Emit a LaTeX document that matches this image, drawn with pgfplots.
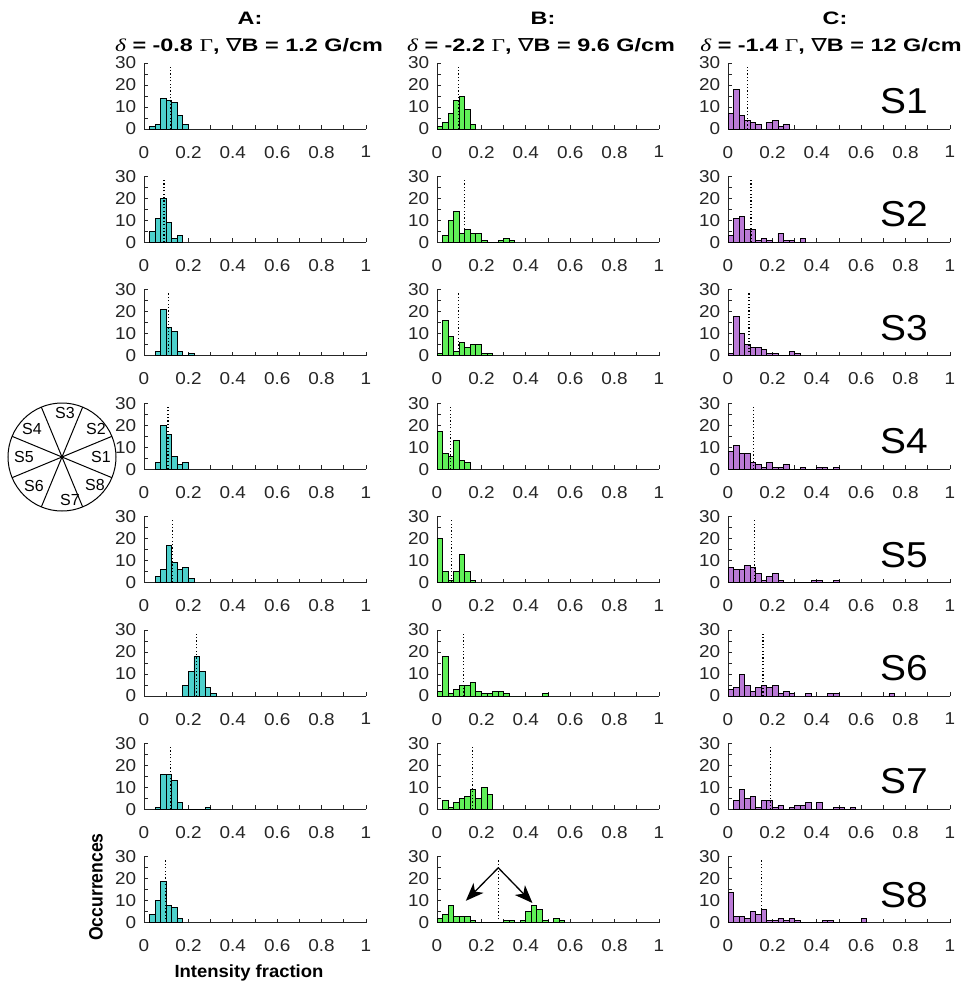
\documentclass[border=0pt]{standalone}
\usepackage{fontspec}
\setmainfont{Liberation Sans}
\newfontfamily\seriffont{Liberation Serif}
\newfontfamily\dejavu{DejaVu Sans}
\usepackage{pgfplots}
\pgfplotsset{compat=1.18}
\usetikzlibrary{arrows.meta,calc}
\definecolor{colA}{RGB}{77,208,204}
\definecolor{colB}{RGB}{96,240,88}
\definecolor{colC}{RGB}{186,122,214}
\definecolor{axgray}{RGB}{38,38,38}

\pgfplotsset{panel/.style={
  width=111pt, height=33pt, scale only axis,
  anchor=south west,
  xmin=0, xmax=1, ymin=0, ymax=30,
  axis lines*=left,
  axis line style={line width=0.5pt, axgray},
  tick align=inside,
  major tick length=2pt, minor tick length=2pt,
  every tick/.style={line width=0.4pt, axgray},
  xtick={0,0.2,0.4,0.6,0.8,1}, xticklabels={0,0.2,0.4,0.6,0.8,1},
  minor xtick={0.1,0.3,0.5,0.7,0.9},
  ytick={0,10,20,30}, minor ytick={5,15,25},
  /pgf/number format/assume math mode=true,
  tick label style={font=\fontsize{8.6}{9}\selectfont, text=axgray, xscale=1.1},
  xticklabel style={yshift=-5pt},
  yticklabel style={xshift=0pt},
}}

\newcommand{\panel}[6]{%
\begin{axis}[panel, at={({#1*0.5pt},{-#2*0.5pt})}]
\addplot[ybar interval, fill=#3, draw=black, line width=0.45pt] coordinates {#5};
\addplot[black, line width=0.6pt, dash pattern=on 0.6pt off 1.1pt] coordinates {(#4,0) (#4,29)};
#6
\end{axis}}

\newcommand{\ttl}[3]{{\seriffont\mdseries\itshape δ} = #1 {\seriffont\mdseries Γ}, {\dejavu\mdseries ∇}B = #2 G/cm}

\begin{document}
\begin{tikzpicture}[x=0.5pt, y=-0.5pt]
\path[use as bounding box] (0,0) rectangle (965,986);

% column A
\panel{144}{129}{colA}{0.12}{(0.025,1)(0.05,2)(0.075,14)(0.1,13)(0.125,12)(0.15,6)(0.175,2)(0.2,0)}{}
\panel{144}{242.4}{colA}{0.09}{(0.025,5)(0.05,11)(0.075,20)(0.1,9)(0.125,2)(0.15,3)(0.175,0)}{}
\panel{144}{355.8}{colA}{0.11}{(0.05,2)(0.075,21)(0.1,13)(0.125,11)(0.15,2)(0.175,0)(0.2,1)(0.225,0)}{}
\panel{144}{469.2}{colA}{0.108}{(0.05,3)(0.075,20)(0.1,16)(0.125,6)(0.15,2)(0.175,3)(0.2,0)}{}
\panel{144}{582.6}{colA}{0.13}{(0.05,3)(0.075,6)(0.1,17)(0.125,9)(0.15,6)(0.175,7)(0.2,2)(0.225,0)}{}
\panel{144}{696}{colA}{0.238}{(0.175,5)(0.2,11)(0.225,18)(0.25,11)(0.275,4)(0.3,1)(0.325,0)}{}
\panel{144}{809.4}{colA}{0.12}{(0.05,1)(0.075,16)(0.1,16)(0.125,13)(0.15,3)(0.175,0)(0.2,0)(0.225,0)(0.25,0)(0.275,1)(0.3,0)}{}
\panel{144}{922.8}{colA}{0.096}{(0.025,4)(0.05,10)(0.075,19)(0.1,8)(0.125,7)(0.15,2)(0.175,0)}{}

% column B
\panel{437}{129}{colB}{0.098}{(0,1)(0.025,3)(0.05,7)(0.075,13)(0.1,15)(0.125,9)(0.15,2)(0.175,0)}{}
\panel{437}{242.4}{colB}{0.124}{(0.025,3)(0.05,10)(0.075,14)(0.1,4)(0.125,6)(0.15,4)(0.175,4)(0.2,1)(0.225,0)(0.25,0)(0.275,1)(0.3,2)(0.325,1)(0.35,0)}{}
\panel{437}{355.8}{colB}{0.097}{(0,1)(0.025,16)(0.05,9)(0.075,2)(0.1,6)(0.125,4)(0.15,5)(0.175,5)(0.2,1)(0.225,1)(0.25,0)}{}
\panel{437}{469.2}{colB}{0.06}{(0,17)(0.025,7)(0.05,6)(0.075,13)(0.1,4)(0.125,3)(0.15,0)}{}
\panel{437}{582.6}{colB}{0.067}{(0,20)(0.025,5)(0.05,1)(0.075,5)(0.1,13)(0.125,5)(0.15,1)(0.175,0)}{}
\panel{437}{696}{colB}{0.119}{(0,2)(0.025,18)(0.05,1)(0.075,3)(0.1,5)(0.125,5)(0.15,6)(0.175,2)(0.2,1)(0.225,1)(0.25,2)(0.275,2)(0.3,1)(0.325,0)(0.35,0)(0.375,0)(0.4,0)(0.425,0)(0.45,0)(0.475,1)(0.5,0)}{}
\panel{437}{809.4}{colB}{0.16}{(0.025,4)(0.05,1)(0.075,3)(0.1,5)(0.125,6)(0.15,9)(0.175,5)(0.2,10)(0.225,7)(0.25,0)}{}
\panel{437}{922.8}{colB}{0.276}{(0,2)(0.025,4)(0.05,8)(0.075,3)(0.1,3)(0.125,3)(0.15,1)(0.175,0)(0.2,0)(0.225,0)(0.25,0)(0.275,0)(0.3,1)(0.325,1)(0.35,0)(0.375,1)(0.4,5)(0.425,8)(0.45,6)(0.475,1)(0.5,0)(0.525,2)(0.55,1)(0.575,0)}{%
\draw[black, line width=0.65pt, -{Stealth[length=9pt,width=7pt,inset=2.5pt]}] (axis cs:0.276,25) -- (axis cs:0.13,10);
\draw[black, line width=0.65pt, -{Stealth[length=9pt,width=7pt,inset=2.5pt]}] (axis cs:0.276,25) -- (axis cs:0.43,9);}

% column C
\panel{728}{129}{colC}{0.089}{(0,7)(0.025,18)(0.05,6)(0.075,4)(0.1,3)(0.125,2)(0.15,0)(0.175,3)(0.2,4)(0.225,1)(0.25,2)(0.275,0)}{}
\panel{728}{242.4}{colC}{0.104}{(0,3)(0.025,11)(0.05,12)(0.075,6)(0.1,6)(0.125,1)(0.15,2)(0.175,1)(0.2,0)(0.225,4)(0.25,1)(0.275,1)(0.3,0)(0.325,2)(0.35,0)}{}
\panel{728}{355.8}{colC}{0.095}{(0,1)(0.025,18)(0.05,10)(0.075,5)(0.1,4)(0.125,4)(0.15,3)(0.175,1)(0.2,1)(0.225,0)(0.25,0)(0.275,2)(0.3,1)(0.325,0)}{}
\panel{728}{469.2}{colC}{0.114}{(0,8)(0.025,11)(0.05,7)(0.075,7)(0.1,3)(0.125,2)(0.15,1)(0.175,3)(0.2,1)(0.225,1)(0.25,2)(0.275,0)(0.3,0)(0.325,1)(0.35,0)(0.375,0)(0.4,1)(0.425,1)(0.45,0)(0.475,1)(0.5,0)}{}
\panel{728}{582.6}{colC}{0.119}{(0,7)(0.025,6)(0.05,6)(0.075,8)(0.1,7)(0.125,4)(0.15,1)(0.175,3)(0.2,4)(0.225,1)(0.25,0)(0.275,0)(0.3,0)(0.325,0)(0.35,0)(0.375,1)(0.4,1)(0.425,0)(0.45,0)(0.475,1)(0.5,0)}{}
\panel{728}{696}{colC}{0.158}{(0,3)(0.025,4)(0.05,10)(0.075,5)(0.1,2)(0.125,4)(0.15,5)(0.175,4)(0.2,5)(0.225,1)(0.25,2)(0.275,1)(0.3,0)(0.325,0)(0.35,1)(0.375,0)(0.4,0)(0.425,0)(0.45,1)(0.475,1)(0.5,0)(0.525,0)(0.55,0)(0.575,0)(0.6,0)(0.625,0)(0.65,0)(0.675,0)(0.7,0)(0.725,1)(0.75,0)}{}
\panel{728}{809.4}{colC}{0.193}{(0.025,4)(0.05,9)(0.075,5)(0.1,6)(0.125,1)(0.15,4)(0.175,4)(0.2,1)(0.225,2)(0.25,0)(0.275,1)(0.3,2)(0.325,2)(0.35,3)(0.375,0)(0.4,3)(0.425,0)(0.45,0)(0.475,1)(0.5,1)(0.525,0)(0.55,1)(0.575,0)}{}
\panel{728}{922.8}{colC}{0.15}{(0,14)(0.025,3)(0.05,3)(0.075,2)(0.1,5)(0.125,4)(0.15,6)(0.175,1)(0.2,1)(0.225,2)(0.25,1)(0.275,2)(0.3,1)(0.325,0)(0.35,0)(0.375,0)(0.4,0)(0.425,1)(0.45,1)(0.475,0)(0.5,0)(0.525,0)(0.55,0)(0.575,0)(0.6,2)(0.625,0)}{}

% column titles
\begin{scope}[every node/.style={font=\fontsize{9}{10}\bfseries\selectfont, inner sep=0pt, xscale=1.3}]
\node at (250,18) {A:};
\node at (543,18) {B:};
\node at (835,18) {C:};
\node at (249,46) {\ttl{-0.8}{1.2}{}};
\node at (541,46) {\ttl{-2.2}{9.6}{}};
\node at (831,46) {\ttl{-1.4}{12}{}};
\end{scope}

% sector labels
\begin{scope}[every node/.style={font=\fontsize{18}{20}\selectfont, inner sep=0pt, xscale=1.08}]
\node at (904,101) {S1};
\node at (904,214.4) {S2};
\node at (904,327.8) {S3};
\node at (904,441.2) {S4};
\node at (904,554.6) {S5};
\node at (904,668) {S6};
\node at (904,781.4) {S7};
\node at (904,894.8) {S8};
\end{scope}

% axis titles
\node[rotate=90, font=\fontsize{8.8}{10}\bfseries\selectfont, inner sep=0pt, yscale=1.1] at (96,887) {Occurrences};
\node[font=\fontsize{8.8}{10}\bfseries\selectfont, inner sep=0pt, xscale=1.05] at (249,973) {Intensity fraction};

% sector diagram
\draw[black, line width=0.5pt] (62,457) circle[radius=54];
\foreach \a in {22.5,67.5,112.5,157.5}{
  \draw[black, line width=0.5pt] ($(62,457)+(\a:54)$) -- ($(62,457)+(\a+180:54)$);
}
\begin{scope}[every node/.style={font=\fontsize{8}{9}\selectfont, inner sep=0pt}]
\node at (65,413) {S3};
\node at (96,429) {S2};
\node at (101,457) {S1};
\node at (95,485) {S8};
\node at (70,500) {S7};
\node at (34,486) {S6};
\node at (24,457) {S5};
\node at (32,429) {S4};
\end{scope}
\end{tikzpicture}
\end{document}
